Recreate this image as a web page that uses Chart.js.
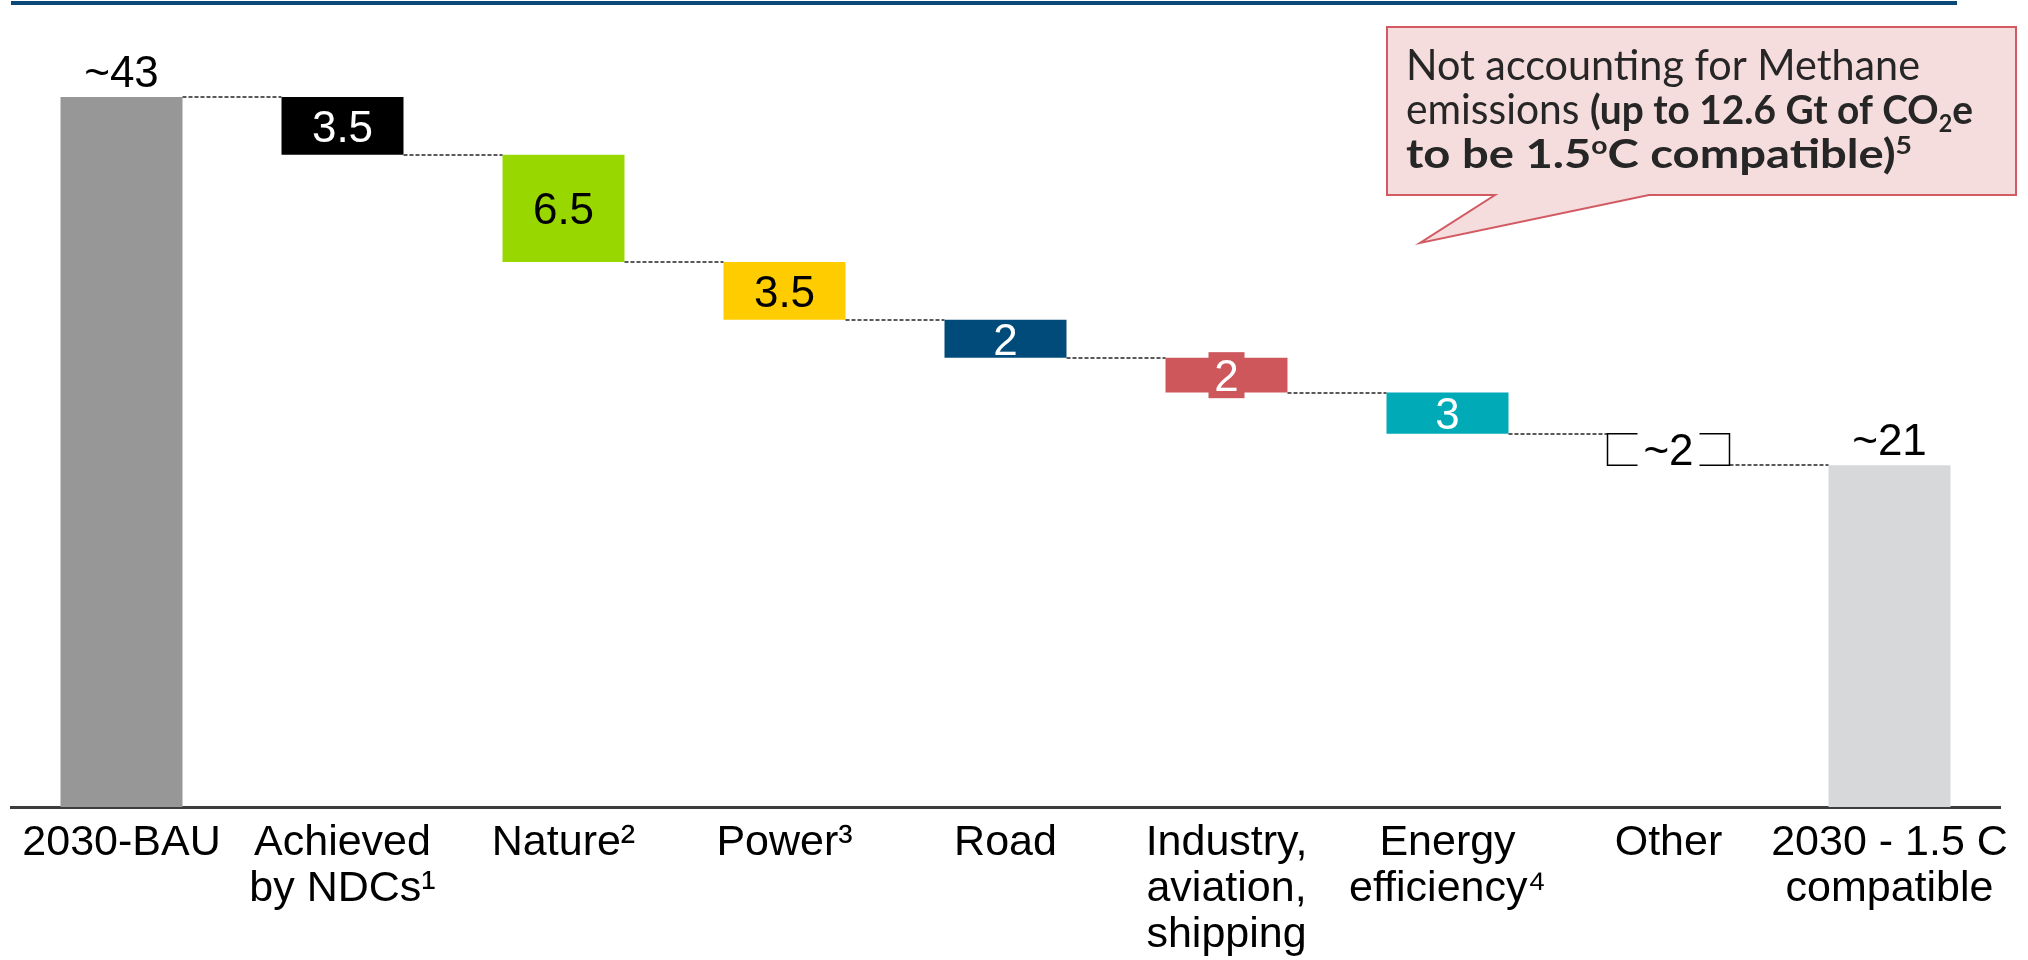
<!DOCTYPE html>
<html>
<head>
<meta charset="utf-8">
<script src="https://cdn.jsdelivr.net/npm/chart.js@4.4.1/dist/chart.umd.min.js"></script>
<style>
  html, body { margin: 0; padding: 0; background: #fff; }
  #wrap { position: relative; width: 2028px; height: 960px; }
  #topRule { position: absolute; left: 11px; top: 1px; width: 1946px; height: 4px; background: #0b4a78; }
</style>
</head>
<body>
<div id="wrap">
  <canvas id="chart" width="2028" height="960"></canvas>
  <div id="topRule"></div>
</div>
<script>
// categories (multi-line tick labels)
const categories = [
  ['2030-BAU'],
  ['Achieved', 'by NDCs¹'],
  ['Nature²'],
  ['Power³'],
  ['Road'],
  ['Industry,', 'aviation,', 'shipping'],
  ['Energy', 'efficiency⁴'],
  ['Other'],
  ['2030 - 1.5 C', 'compatible']
];
// Gt CO2e, as drawn in the picture
const startTotal = 43;
const reductions = [3.5, 6.5, 3.5, 2.3, 2.1, 2.5, 1.9];
const endTotal = 20.7;
const valueLabels = ['~43', '3.5', '6.5', '3.5', '2', '2', '3', '~2', '~21'];

const barColors = ['#979797', '#000000', '#99d700', '#ffcc00', '#004b7a', '#cd575b', '#00aab7', 'rgba(0,0,0,0)', '#d7d8da'];
const labelColors = ['#000', '#fff', '#000', '#000', '#fff', '#fff', '#fff', '#000', '#000'];

// floating bars [low, high]
const ranges = [[0, startTotal]];
let level = startTotal;
reductions.forEach(r => {
  ranges.push([level - r, level]);
  level -= r;
});
ranges.push([0, endTotal]);

const FONT = '"Liberation Sans", Arial, sans-serif';
const CALLOUT_FONT = 'Lato, "Open Sans", sans-serif';

function drawRichLine(ctx, x, y, parts, targetWidth) {
  let total = 0;
  parts.forEach(p => { ctx.font = p.font; total += ctx.measureText(p.text).width; });
  const sx = targetWidth ? targetWidth / total : 1;
  ctx.save();
  ctx.translate(x, y);
  ctx.scale(sx, 1);
  let cx = 0;
  parts.forEach(p => {
    ctx.font = p.font;
    ctx.fillText(p.text, cx, p.dy || 0);
    cx += ctx.measureText(p.text).width;
  });
  ctx.restore();
}

const waterfallExtras = {
  id: 'waterfallExtras',
  afterDatasetsDraw(chart) {
    const ctx = chart.ctx;
    const yScale = chart.scales.y;
    const bars = chart.getDatasetMeta(0).data;

    // dashed connectors
    ctx.save();
    ctx.strokeStyle = '#5a5a5a';
    ctx.lineWidth = 2;
    ctx.setLineDash([4, 2]);
    for (let i = 0; i < bars.length - 1; i++) {
      const a = bars[i], b = bars[i + 1];
      const v = i === 0 ? ranges[0][1] : ranges[i][0];
      const y = Math.round(yScale.getPixelForValue(v));
      ctx.beginPath();
      ctx.moveTo(a.x + a.width / 2, y);
      ctx.lineTo(b.x - b.width / 2, y);
      ctx.stroke();
    }
    ctx.restore();

    // bracket for "Other"
    const o = bars[7];
    const oTop = Math.min(o.y, o.base), oBot = Math.max(o.y, o.base);
    const oL = o.x - o.width / 2, oR = o.x + o.width / 2;
    const seg = 30;
    ctx.save();
    ctx.strokeStyle = '#000';
    ctx.lineWidth = 1.5;
    ctx.beginPath();
    ctx.moveTo(oL + seg, oTop); ctx.lineTo(oL, oTop); ctx.lineTo(oL, oBot); ctx.lineTo(oL + seg, oBot);
    ctx.moveTo(oR - seg, oTop); ctx.lineTo(oR, oTop); ctx.lineTo(oR, oBot); ctx.lineTo(oR - seg, oBot);
    ctx.stroke();
    ctx.restore();

    // label box on the industry bar
    const r = bars[5];
    const rMid = (r.y + r.base) / 2;
    ctx.fillStyle = barColors[5];
    ctx.fillRect(r.x - 18, rMid - 23, 36, 46);

    // value labels
    ctx.save();
    ctx.font = '44px ' + FONT;
    ctx.textAlign = 'center';
    ctx.textBaseline = 'alphabetic';
    bars.forEach((el, i) => {
      ctx.fillStyle = labelColors[i];
      const top = Math.min(el.y, el.base), bot = Math.max(el.y, el.base);
      if (i === 0 || i === bars.length - 1) {
        ctx.fillText(valueLabels[i], el.x, top - 10);
      } else {
        ctx.fillText(valueLabels[i], el.x, (top + bot) / 2 + 16);
      }
    });
    ctx.restore();
  },
  afterDraw(chart) {
    const ctx = chart.ctx;
    // callout box with tail
    ctx.save();
    ctx.beginPath();
    ctx.moveTo(1387, 27);
    ctx.lineTo(2016, 27);
    ctx.lineTo(2016, 195);
    ctx.lineTo(1649, 195);
    ctx.lineTo(1420, 243);
    ctx.lineTo(1495, 195);
    ctx.lineTo(1387, 195);
    ctx.closePath();
    ctx.fillStyle = '#f5dcdd';
    ctx.fill();
    ctx.strokeStyle = '#d25a63';
    ctx.lineWidth = 2;
    ctx.stroke();

    ctx.fillStyle = '#262626';
    ctx.textBaseline = 'alphabetic';
    const reg = '42px ' + CALLOUT_FONT;
    const bold = 'bold 40px ' + CALLOUT_FONT;
    const small = 'bold 24px ' + CALLOUT_FONT;
    drawRichLine(ctx, 1406, 80, [{ text: 'Not accounting for Methane', font: reg }], 514);
    drawRichLine(ctx, 1406, 124, [
      { text: 'emissions ', font: reg },
      { text: '(up to 12.6 Gt of CO', font: bold },
      { text: '2', font: small, dy: 8 },
      { text: 'e', font: bold }
    ], 567);
    drawRichLine(ctx, 1406, 168, [
      { text: 'to be 1.5', font: bold },
      { text: 'o', font: small, dy: -14 },
      { text: 'C compatible)', font: bold },
      { text: '5', font: small, dy: -14 }
    ], 506);
    ctx.restore();
  }
};

new Chart(document.getElementById('chart'), {
  type: 'bar',
  data: {
    labels: categories,
    datasets: [{
      data: ranges,
      backgroundColor: barColors,
      borderWidth: 0,
      barPercentage: 0.552,
      categoryPercentage: 1.0
    }]
  },
  options: {
    responsive: false,
    animation: false,
    layout: { padding: { left: 11, right: 28, top: 0, bottom: 0 } },
    plugins: {
      legend: { display: false },
      tooltip: { enabled: false }
    },
    scales: {
      x: {
        grid: { display: false, drawTicks: false },
        border: { display: true, color: '#3c3c3c', width: 3 },
        ticks: {
          color: '#000',
          font: { family: FONT, size: 43, lineHeight: 1.07 },
          padding: 13,
          autoSkip: false,
          maxRotation: 0
        },
        afterFit(scale) { scale.height = 153; }
      },
      y: {
        display: false,
        min: 0,
        max: 48.87
      }
    }
  },
  plugins: [waterfallExtras]
});
</script>
</body>
</html>
